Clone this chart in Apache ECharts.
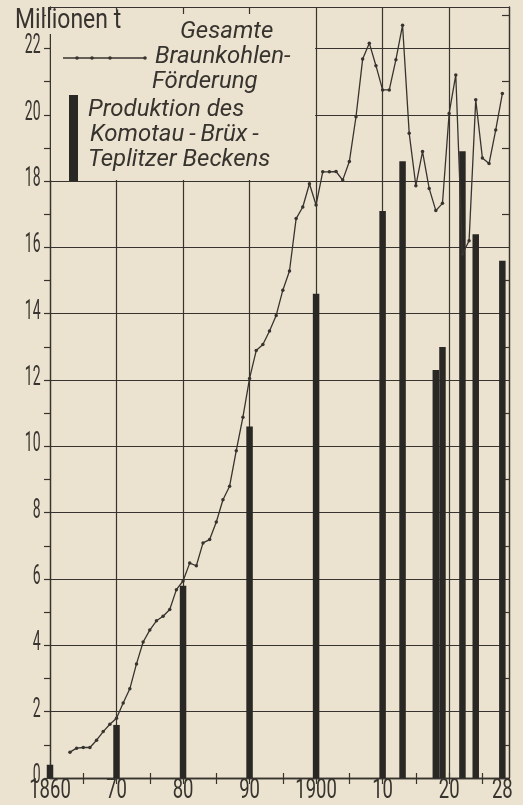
<!DOCTYPE html>
<html><head><meta charset="utf-8">
<script src="https://cdn.jsdelivr.net/npm/echarts@6/dist/echarts.min.js"></script>
<style>html,body{margin:0;padding:0;background:#ebe2cf}#c{width:523px;height:805px}</style>
</head><body><div id="c"></div>
<script>
// ---- data ----
const lineYears = [1863,1864,1865,1866,1867,1868,1869,1870,1871,1872,1873,1874,1875,1876,1877,1878,1879,
  1880,1881,1882,1883,1884,1885,1886,1887,1888,1889,1890,1891,1892,1893,1894,1895,1896,1897,1898,1899,
  1900,1901,1902,1903,1904,1905,1906,1907,1908,1909,1910,1911,1912,1913,1914,1915,1916,1917,1918,1919,
  1920,1921,1922,1923,1924,1925,1926,1927,1928];
const lineValues = [0.78,0.9,0.92,0.92,1.14,1.4,1.62,1.8,2.26,2.69,3.44,4.1,4.46,4.74,4.88,5.08,5.68,
  5.94,6.48,6.4,7.09,7.19,7.72,8.39,8.8,9.87,10.88,12.05,12.89,13.07,13.48,13.95,14.71,15.29,16.87,17.22,17.92,
  17.28,18.28,18.28,18.29,18.03,18.59,19.94,21.68,22.16,21.48,20.75,20.75,21.66,22.7,19.44,17.86,18.89,17.78,17.11,17.33,
  20.04,21.2,15.8,16.2,20.45,18.7,18.53,19.54,20.64];
const barYears = [1860,1870,1880,1890,1900,1910,1913,1918,1919,1922,1924,1928];
const barValues = [0.4,1.6,5.8,10.6,14.6,17.1,18.6,12.3,13.0,18.9,16.4,15.6];
const xLabelValues = [1860,1870,1880,1890,1900,1910,1920,1928];
const xLabelTexts = ['1860','70','80','90','1900','10','20','28'];
const yLabelValues = [0,2,4,6,8,10,12,14,16,18,20,22];
const unitText = 'Millionen t';
const legendLineText = ['Gesamte','Braunkohlen-','Förderung'];
const legendBarText = ['Produktion des','Komotau\u2009-\u2009Brüx\u2009-','Teplitzer Beckens'];

// ---- chart ----
const ink = '#37342f';
const paper = '#ebe2cf';
const xMin = 1860, xMax = 1929, yMin = 0, yMax = 23.25;
const fiveYear = []; for (let v = 1865; v <= 1925; v += 5) fiveYear.push(v);
const allInt = []; for (let v = 0; v <= 23; v++) allInt.push(v);
const oddInt = allInt.filter(v => v % 2 === 1);

const chart = echarts.init(document.getElementById('c'));
const axisLineStyle = {color: ink, width: 1.3};
const tickStyle = {color: ink, width: 1.2};
const gridStyle = {color: ink, width: 1.2};
const noLabel = {show: false};
chart.setOption({
  backgroundColor: paper,
  animation: false,
  grid: {left: 50, right: 14, top: 7, bottom: 27},
  xAxis: [
    {type: 'value', min: xMin, max: xMax, interval: 10, position: 'bottom',
     axisLine: {show: true, lineStyle: axisLineStyle}, axisTick: {show: false}, axisLabel: noLabel,
     splitLine: {show: true, lineStyle: gridStyle}},
    {type: 'value', min: xMin, max: xMax, interval: 10, position: 'top',
     axisLine: {show: true, lineStyle: axisLineStyle},
     axisTick: {show: true, inside: true, length: 6, customValues: fiveYear, lineStyle: tickStyle},
     axisLabel: noLabel, splitLine: {show: false}},
    {type: 'value', min: xMin, max: xMax, interval: 10, position: 'bottom',
     axisLine: {show: false},
     axisTick: {show: true, inside: true, length: 5, customValues: fiveYear, lineStyle: tickStyle},
     axisLabel: noLabel, splitLine: {show: false}}
  ],
  yAxis: [
    {type: 'value', min: yMin, max: yMax, interval: 2, position: 'left',
     axisLine: {show: true, lineStyle: axisLineStyle}, axisTick: {show: false}, axisLabel: noLabel,
     splitLine: {show: true, lineStyle: gridStyle}},
    {type: 'value', min: yMin, max: yMax, interval: 2, position: 'right',
     axisLine: {show: true, lineStyle: axisLineStyle},
     axisTick: {show: true, inside: true, length: 7, customValues: oddInt, lineStyle: tickStyle},
     axisLabel: noLabel, splitLine: {show: false}},
    {type: 'value', min: yMin, max: yMax, interval: 2, position: 'left',
     axisLine: {show: false},
     axisTick: {show: true, inside: false, length: 6, customValues: allInt, lineStyle: tickStyle},
     axisLabel: noLabel, splitLine: {show: false}}
  ],
  series: [
    {type: 'bar', xAxisIndex: 0, yAxisIndex: 0, barWidth: 6.5, z: 3,
     itemStyle: {color: '#2a2825'},
     data: barYears.map((y, i) => [y, barValues[i]])},
    {type: 'line', xAxisIndex: 0, yAxisIndex: 0, z: 4,
     symbol: 'circle', symbolSize: 3.5, showSymbol: true,
     lineStyle: {color: ink, width: 1.3}, itemStyle: {color: ink},
     data: lineYears.map((y, i) => [y, lineValues[i]])}
  ]
});

// ---- text & legend overlay ----
const px = (x, y) => chart.convertToPixel({xAxisIndex: 0, yAxisIndex: 0}, [x, y]);
const g = [];
const numFont = 'Roboto, "DejaVu Sans", sans-serif';
yLabelValues.forEach(v => {
  const p = px(xMin, v);
  g.push({type: 'text', x: 40.5, y: p[1] - 2, scaleX: 0.5, z: 10,
    style: {text: String(v), font: '400 28px ' + numFont, fill: ink, align: 'right', verticalAlign: 'middle'}});
});
xLabelValues.forEach((v, i) => {
  const p = px(v, 0);
  g.push({type: 'text', x: p[0], y: 791, scaleX: 0.66, z: 10,
    style: {text: xLabelTexts[i], font: '400 28px ' + numFont, fill: ink, align: 'center', verticalAlign: 'middle'}});
});
g.push({type: 'rect', z: 9, shape: {x: 46, y: 10, width: 80, height: 24}, style: {fill: paper}});
g.push({type: 'text', x: 15, y: 21, scaleX: 0.85, z: 10,
  style: {text: unitText, font: '400 27px ' + numFont, fill: ink, align: 'left', verticalAlign: 'middle'}});

const tl = px(xMin, yMax), br = px(1900, 18);
g.push({type: 'rect', z: 1, shape: {x: tl[0] + 1, y: tl[1] + 7, width: br[0] - tl[0] - 2, height: br[1] - tl[1] - 8},
  style: {fill: paper}});
g.push({type: 'line', z: 10, shape: {x1: 63, y1: 58, x2: 145, y2: 58}, style: {stroke: ink, lineWidth: 1.3}});
[77, 92, 110, 145].forEach(cx => g.push({type: 'circle', z: 10, shape: {cx: cx, cy: 58, r: 1.8}, style: {fill: ink}}));
g.push({type: 'rect', z: 10, shape: {x: 69, y: 95, width: 9, height: br[1] - 95}, style: {fill: '#2a2825'}});
const legFont = 'italic 400 24px Roboto, "DejaVu Sans", sans-serif';
const lineTextPos = [[180, 40], [155, 65], [152, 90]];
legendLineText.forEach((t, i) => g.push({type: 'text', z: 10, x: lineTextPos[i][0], y: lineTextPos[i][1] - 8,
  style: {text: t, font: legFont, fill: ink, align: 'left', verticalAlign: 'middle'}}));
const barTextPos = [[88, 118], [90, 143], [88, 168]];
legendBarText.forEach((t, i) => g.push({type: 'text', z: 10, x: barTextPos[i][0], y: barTextPos[i][1] - 8,
  style: {text: t, font: legFont, fill: ink, align: 'left', verticalAlign: 'middle'}}));

chart.setOption({graphic: {elements: g}});
</script>
</body></html>
